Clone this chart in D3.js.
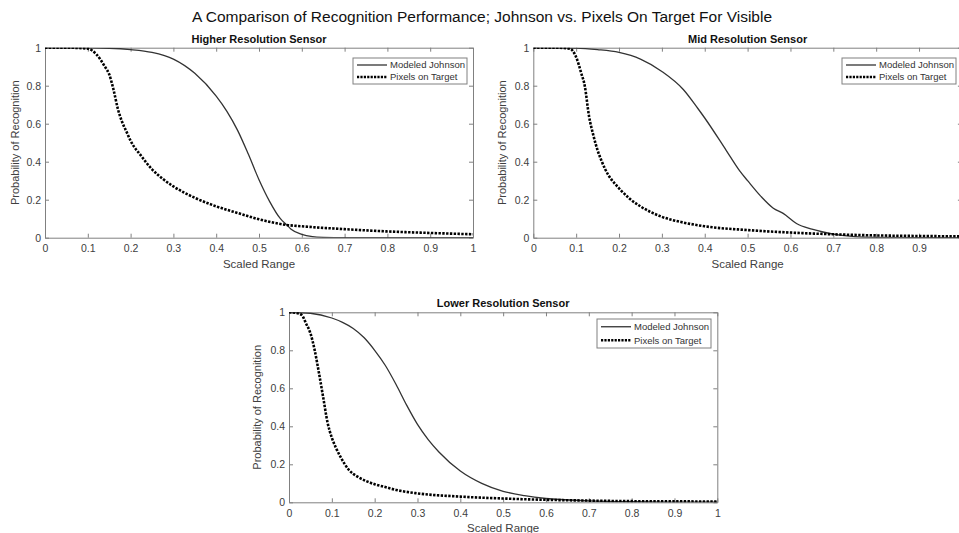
<!DOCTYPE html>
<html lang="en">
<head>
  <meta charset="UTF-8">
  <title>Recognition Performance</title>
  <script src="https://d3js.org/d3.v7.min.js"></script>
  <style>
    body { margin: 0; background: #fff; }
    svg { display: block; font-family: "Liberation Sans", Arial, sans-serif; }
    .axis text { fill: #404040; font-size: 10.5px; }
    .axis path, .axis line { stroke: #808080; }
  </style>
</head>
<body>
  <svg id="chart" width="959" height="533"></svg>

  <script>
    // x tick values and labels shared by all panels
    const xTicks = [0, 0.1, 0.2, 0.3, 0.4, 0.5, 0.6, 0.7, 0.8, 0.9, 1];
    const xTickLabels = ["0", "0.1", "0.2", "0.3", "0.4", "0.5", "0.6", "0.7", "0.8", "0.9", "1"];
    const yTicks = [0, 0.2, 0.4, 0.6, 0.8, 1];
    const yTickLabels = ["0", "0.2", "0.4", "0.6", "0.8", "1"];
    const seriesNames = ["Modeled Johnson", "Pixels on Target"];

    // [scaled range, probability]
    const higherJohnson = [[0,1],[0.1,0.999],[0.15,0.997],[0.2,0.99],[0.25,0.975],[0.3,0.94],[0.35,0.865],[0.4,0.745],[0.425,0.665],[0.45,0.565],[0.475,0.44],[0.5,0.305],[0.525,0.19],[0.55,0.1],[0.565,0.067],[0.575,0.045],[0.6,0.018],[0.625,0.006],[0.65,0.002],[0.7,0],[1,0]];
    const higherPixels = [[0,1],[0.05,1],[0.1,0.995],[0.12,0.965],[0.14,0.9],[0.15,0.86],[0.16,0.78],[0.17,0.68],[0.18,0.61],[0.19,0.56],[0.2,0.51],[0.225,0.43],[0.25,0.36],[0.275,0.31],[0.3,0.27],[0.35,0.21],[0.4,0.165],[0.45,0.13],[0.5,0.097],[0.565,0.067],[0.6,0.06],[0.7,0.045],[0.8,0.033],[0.9,0.025],[1,0.018]];

    const midJohnson = [[0,1],[0.1,0.998],[0.15,0.99],[0.2,0.975],[0.25,0.94],[0.3,0.875],[0.35,0.78],[0.384,0.68],[0.4,0.63],[0.45,0.46],[0.482,0.35],[0.5,0.3],[0.53,0.22],[0.56,0.155],[0.583,0.128],[0.614,0.075],[0.65,0.045],[0.676,0.03],[0.715,0.014],[0.75,0.006],[0.8,0.002],[0.9,0],[1,0]];
    const midPixels = [[0,1],[0.05,1],[0.085,0.995],[0.1,0.95],[0.112,0.865],[0.12,0.8],[0.13,0.64],[0.14,0.54],[0.15,0.46],[0.16,0.4],[0.175,0.33],[0.19,0.285],[0.2,0.26],[0.225,0.205],[0.25,0.165],[0.3,0.11],[0.35,0.08],[0.4,0.06],[0.5,0.04],[0.6,0.027],[0.7,0.018],[0.8,0.012],[0.9,0.009],[1,0.007]];

    const lowerJohnson = [[0,1],[0.05,0.995],[0.1,0.97],[0.125,0.947],[0.15,0.915],[0.175,0.867],[0.2,0.8],[0.225,0.72],[0.25,0.62],[0.275,0.51],[0.3,0.41],[0.325,0.33],[0.35,0.265],[0.4,0.165],[0.45,0.1],[0.5,0.058],[0.55,0.035],[0.6,0.02],[0.7,0.008],[0.8,0.003],[0.9,0.001],[1,0.001]];
    const lowerPixels = [[0,1],[0.02,0.995],[0.03,0.985],[0.04,0.94],[0.05,0.89],[0.06,0.8],[0.07,0.68],[0.08,0.55],[0.09,0.42],[0.1,0.34],[0.11,0.285],[0.12,0.24],[0.14,0.17],[0.16,0.135],[0.18,0.112],[0.2,0.095],[0.22,0.083],[0.25,0.065],[0.3,0.047],[0.4,0.03],[0.5,0.02],[0.6,0.013],[0.7,0.009],[0.8,0.006],[0.9,0.005],[1,0.004]];

    const svg = d3.select("#chart");
    const pageWidth = 959;

    svg.append("text")
      .attr("x", 482).attr("y", 22)
      .attr("text-anchor", "middle")
      .style("font-size", "15.5px")
      .style("fill", "#111")
      .text("A Comparison of Recognition Performance; Johnson vs. Pixels On Target For Visible");

    const panels = [
      { id: "p1", title: "Higher Resolution Sensor", left: 45, top: 47.7, width: 428, height: 190, ylab: -26, johnson: higherJohnson, pixels: higherPixels, legend: { x: 353, y: 58, h: 26 } },
      { id: "p2", title: "Mid Resolution Sensor", left: 533.3, top: 47.7, width: 428.6, height: 190, ylab: -27, johnson: midJohnson, pixels: midPixels, legend: { x: 842, y: 58, h: 26 } },
      { id: "p3", title: "Lower Resolution Sensor", left: 289, top: 312.3, width: 428.3, height: 190, ylab: -28, johnson: lowerJohnson, pixels: lowerPixels, legend: { x: 597, y: 319, h: 29 } }
    ];

    panels.forEach(p => {
      const x = d3.scaleLinear().domain([0, 1]).range([0, p.width]);
      const y = d3.scaleLinear().domain([0, 1]).range([p.height, 0]);

      const g = svg.append("g").attr("transform", `translate(${p.left},${p.top})`);

      g.append("clipPath").attr("id", "clip-" + p.id)
        .append("rect").attr("width", p.width).attr("height", p.height);

      // axes with inward ticks on all four sides
      const bottom = g.append("g").attr("class", "axis")
        .attr("transform", `translate(0,${p.height})`)
        .call(d3.axisBottom(x).tickValues(xTicks).tickFormat((d, i) => xTickLabels[i]).tickSizeInner(-4).tickSizeOuter(0).tickPadding(7));
      // labels past the page edge are not shown in the source
      bottom.selectAll(".tick text").filter(d => p.left + x(d) > pageWidth - 4).remove();
      g.append("g").attr("class", "axis")
        .call(d3.axisTop(x).tickValues(xTicks).tickFormat("").tickSizeInner(-4).tickSizeOuter(0));
      g.append("g").attr("class", "axis")
        .call(d3.axisLeft(y).tickValues(yTicks).tickFormat((d, i) => yTickLabels[i]).tickSizeInner(-4).tickSizeOuter(0).tickPadding(4));
      g.append("g").attr("class", "axis")
        .attr("transform", `translate(${p.width},0)`)
        .call(d3.axisRight(y).tickValues(yTicks).tickFormat("").tickSizeInner(-4).tickSizeOuter(0));

      const line = d3.line()
        .x(d => x(d[0]))
        .y(d => y(d[1]))
        .curve(d3.curveMonotoneX);

      const plot = g.append("g").attr("clip-path", `url(#clip-${p.id})`);
      plot.append("path")
        .datum(p.johnson)
        .attr("fill", "none")
        .attr("stroke", "#333")
        .attr("stroke-width", 1.3)
        .attr("d", line);
      plot.append("path")
        .datum(p.pixels)
        .attr("fill", "none")
        .attr("stroke", "#000")
        .attr("stroke-width", 2.6)
        .attr("stroke-dasharray", "2.4,1.4")
        .attr("d", line);

      // titles and labels
      g.append("text")
        .attr("x", p.width / 2).attr("y", -5)
        .attr("text-anchor", "middle")
        .style("font-size", "11px")
        .style("font-weight", "bold")
        .style("fill", "#111")
        .text(p.title);
      g.append("text")
        .attr("x", p.width / 2).attr("y", p.height + 30)
        .attr("text-anchor", "middle")
        .style("font-size", "11.5px")
        .style("fill", "#404040")
        .text("Scaled Range");
      g.append("text")
        .attr("transform", `translate(${p.ylab},${p.height / 2}) rotate(-90)`)
        .attr("text-anchor", "middle")
        .style("font-size", "11px")
        .style("fill", "#404040")
        .text("Probability of Recognition");

      // legend
      const lg = svg.append("g").attr("transform", `translate(${p.legend.x},${p.legend.y})`);
      const lw = 114;
      lg.append("rect")
        .attr("width", lw).attr("height", p.legend.h)
        .attr("fill", "#fff").attr("stroke", "#808080");
      const rowH = p.legend.h / 2;
      seriesNames.forEach((name, i) => {
        const cy = rowH * (i + 0.5) + (i === 0 ? 0.5 : -0.5);
        lg.append("line")
          .attr("x1", 4).attr("x2", 34)
          .attr("y1", cy).attr("y2", cy)
          .attr("stroke", i === 0 ? "#333" : "#000")
          .attr("stroke-width", i === 0 ? 1.3 : 2.4)
          .attr("stroke-dasharray", i === 0 ? null : "2.2,1.2");
        lg.append("text")
          .attr("x", 37).attr("y", cy)
          .attr("dy", "0.35em")
          .style("font-size", "9.5px")
          .style("fill", "#333")
          .text(name);
      });
    });
  </script>
</body>
</html>
